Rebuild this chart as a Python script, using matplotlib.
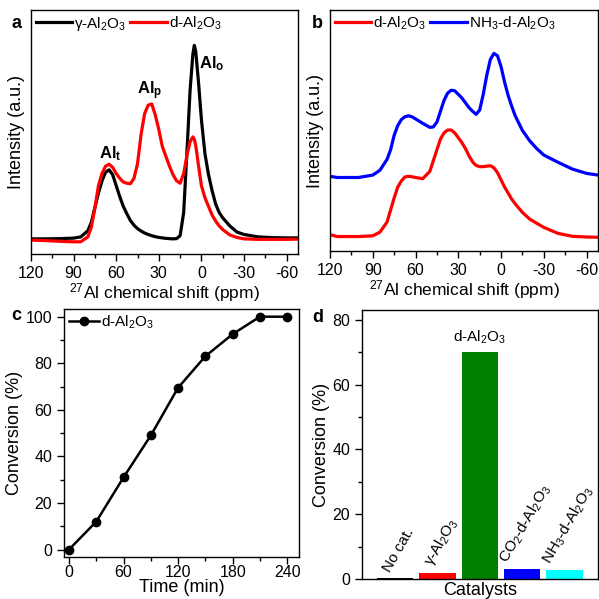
import matplotlib
matplotlib.use("Agg")
import matplotlib.pyplot as plt
from matplotlib.ticker import MultipleLocator

plt.rcParams['font.family'] = ['Liberation Sans', 'DejaVu Sans']
plt.rcParams['mathtext.fontset'] = 'custom'
plt.rcParams['mathtext.rm'] = 'Liberation Sans'
plt.rcParams['mathtext.default'] = 'regular'
plt.rcParams['axes.unicode_minus'] = False
plt.rcParams['axes.linewidth'] = 1.0

# panel a: 27Al NMR, gamma-Al2O3 vs d-Al2O3
ppm_a = [120, 110, 100, 90, 85, 80, 77.5, 75, 72.5, 70, 67.5, 65, 62.5, 60, 57.5, 55, 52.5, 50,
         47.5, 45, 42.5, 40, 37.5, 35, 32.5, 30, 27.5, 25, 22.5, 20, 17.5, 15, 12.5, 10, 8, 6, 5, 4,
         2, 0, -2.5, -5, -7.5, -10, -12.5, -15, -20, -25, -30, -40, -50, -60, -68]
gamma_a = [0.062, 0.062, 0.063, 0.065, 0.07, 0.095, 0.13, 0.19, 0.25, 0.30, 0.335, 0.345, 0.325,
           0.28, 0.235, 0.195, 0.165, 0.137, 0.118, 0.104, 0.094, 0.086, 0.08, 0.075, 0.071, 0.068,
           0.066, 0.064, 0.063, 0.062, 0.063, 0.075, 0.17, 0.44, 0.67, 0.82, 0.855, 0.83, 0.70, 0.55,
           0.41, 0.325, 0.26, 0.205, 0.17, 0.148, 0.115, 0.09, 0.08, 0.07, 0.067, 0.066, 0.066]
d_a = [0.057, 0.055, 0.052, 0.05, 0.05, 0.07, 0.11, 0.19, 0.28, 0.33, 0.36, 0.368, 0.355, 0.33,
       0.31, 0.295, 0.29, 0.288, 0.31, 0.37, 0.49, 0.575, 0.61, 0.615, 0.57, 0.51, 0.44, 0.40, 0.36,
       0.325, 0.30, 0.29, 0.33, 0.41, 0.46, 0.48, 0.47, 0.445, 0.36, 0.28, 0.23, 0.195, 0.16, 0.135,
       0.115, 0.1, 0.078, 0.068, 0.062, 0.06, 0.06, 0.06, 0.061]

# panel b: d-Al2O3 vs NH3-d-Al2O3
ppm_b = [120, 115, 110, 100, 90, 85, 80, 77.5, 75, 72.5, 70, 67.5, 65, 62.5, 60, 55, 50, 47.5, 45,
         42.5, 40, 37.5, 35, 32.5, 30, 27.5, 25, 22.5, 20, 17.5, 15, 12.5, 10, 7.5, 5, 2.5, 0, -2.5,
         -5, -7.5, -10, -15, -20, -25, -30, -40, -50, -60, -68]
d_b = [0.068, 0.06, 0.06, 0.06, 0.063, 0.078, 0.12, 0.17, 0.22, 0.265, 0.29, 0.307, 0.31, 0.308,
       0.305, 0.30, 0.33, 0.375, 0.42, 0.465, 0.49, 0.502, 0.502, 0.49, 0.47, 0.45, 0.425, 0.395,
       0.37, 0.355, 0.35, 0.35, 0.352, 0.354, 0.345, 0.325, 0.295, 0.265, 0.24, 0.215, 0.195, 0.16,
       0.133, 0.115, 0.098, 0.073, 0.061, 0.058, 0.057]
nh3_b = [0.31, 0.305, 0.305, 0.305, 0.315, 0.335, 0.38, 0.42, 0.48, 0.52, 0.545, 0.557, 0.561,
         0.557, 0.548, 0.53, 0.513, 0.515, 0.535, 0.58, 0.625, 0.655, 0.667, 0.665, 0.65, 0.635,
         0.615, 0.595, 0.58, 0.567, 0.585, 0.65, 0.73, 0.795, 0.82, 0.81, 0.765, 0.70, 0.645, 0.6,
         0.56, 0.5, 0.458, 0.425, 0.398, 0.368, 0.34, 0.322, 0.315]

# panel c: conversion vs time
time_c = [0, 30, 60, 90, 120, 150, 180, 210, 240]
conv_c = [0, 12, 31, 49, 69.5, 83, 92.5, 100, 100]

# panel d: catalysts
cat_labels = ['No cat.', 'γ-Al$_2$O$_3$', 'd-Al$_2$O$_3$', 'CO$_2$-d-Al$_2$O$_3$', 'NH$_3$-d-Al$_2$O$_3$']
cat_values = [0.3, 2.0, 70, 3.1, 2.7]
cat_colors = ['black', 'red', '#007f00', 'blue', 'cyan']

W = 599.0
def add_ax(l, r, t, b):
    return fig.add_axes([l / W, 1 - b / W, (r - l) / W, (b - t) / W])

fig = plt.figure(figsize=(5.99, 5.99), dpi=100)

ax_a = add_ax(31, 298, 10, 254)
ax_b = add_ax(330, 598, 10, 251)
ax_c = add_ax(64, 299, 309, 557)
ax_d = add_ax(362, 598, 310, 579)

tick_fs = 11.5
lab_fs = 13

for ax in (ax_a, ax_b):
    ax.set_xlim(120, -68)
    ax.set_ylim(0, 1)
    ax.xaxis.set_major_locator(MultipleLocator(30))
    ax.xaxis.set_minor_locator(MultipleLocator(15))
    ax.set_yticks([])
    ax.set_xlabel('$^{27}$Al chemical shift (ppm)', fontsize=12.5, labelpad=0)
    ax.set_ylabel('Intensity (a.u.)', fontsize=lab_fs, labelpad=4)

ax_a.plot(ppm_a, gamma_a, color='black', lw=2.3, label='γ-Al$_2$O$_3$')
ax_a.plot(ppm_a, d_a, color='red', lw=2.3, label='d-Al$_2$O$_3$')
ax_a.text(64.5, 0.41, 'Al$_t$', fontsize=12, fontweight='bold', ha='center', va='center')
ax_a.text(36.5, 0.67, 'Al$_p$', fontsize=12, fontweight='bold', ha='center', va='center')
ax_a.text(-7.5, 0.78, 'Al$_o$', fontsize=12, fontweight='bold', ha='center', va='center')

ax_b.plot(ppm_b, d_b, color='red', lw=2.3, label='d-Al$_2$O$_3$')
ax_b.plot(ppm_b, nh3_b, color='blue', lw=2.3, label='NH$_3$-d-Al$_2$O$_3$')

for ax in (ax_a, ax_b):
    ax.legend(loc='upper left', ncol=2, frameon=False, fontsize=11, handlelength=2.4,
              handletextpad=0.1, columnspacing=0.3, borderaxespad=0.1, borderpad=0.2)

ax_c.plot(time_c, conv_c, color='black', lw=1.8, marker='o', ms=6, label='d-Al$_2$O$_3$')
ax_c.set_xlim(-5.5, 253)
ax_c.set_ylim(-3.2, 103.3)
ax_c.xaxis.set_major_locator(MultipleLocator(60))
ax_c.xaxis.set_minor_locator(MultipleLocator(30))
ax_c.yaxis.set_major_locator(MultipleLocator(20))
ax_c.yaxis.set_minor_locator(MultipleLocator(10))
ax_c.set_xlabel('Time (min)', fontsize=lab_fs, labelpad=-1)
ax_c.set_ylabel('Conversion (%)', fontsize=lab_fs, labelpad=2)
ax_c.legend(loc='upper left', frameon=False, fontsize=11, handlelength=2.0,
            handletextpad=0.1, borderaxespad=0.1, borderpad=0.2)

xpos = [1, 2, 3, 4, 5]
ax_d.bar(xpos, cat_values, width=0.86, color=cat_colors)
ax_d.set_xlim(0.22, 5.79)
ax_d.set_ylim(0, 83)
ax_d.set_xticks([])
ax_d.yaxis.set_major_locator(MultipleLocator(20))
ax_d.yaxis.set_minor_locator(MultipleLocator(10))
ax_d.set_xlabel('Catalysts', fontsize=lab_fs, labelpad=2)
ax_d.set_ylabel('Conversion (%)', fontsize=lab_fs, labelpad=2)
for i, (lab, v) in enumerate(zip(cat_labels, cat_values)):
    if i == 2:
        ax_d.text(xpos[i], v + 2, lab, fontsize=11, ha='center', va='bottom')
    else:
        ax_d.text(xpos[i] + 0.08, v + 1.0, lab, fontsize=11, ha='center', va='bottom', rotation=60)

for ax in (ax_a, ax_b, ax_c, ax_d):
    ax.tick_params(which='both', direction='out', top=False, right=False, labelsize=tick_fs)
    ax.tick_params(which='major', length=5, width=1)
    ax.tick_params(which='minor', length=3, width=1)
ax_c.tick_params(axis='x', which='major', pad=1)

# panel letters
for lab, x, y in [('a', 12, 23), ('b', 312, 23), ('c', 11, 316), ('d', 312, 318)]:
    fig.text(x / W, 1 - y / W, lab, fontsize=13, fontweight='bold', ha='left', va='center')

fig.savefig('out.png', dpi=100)
